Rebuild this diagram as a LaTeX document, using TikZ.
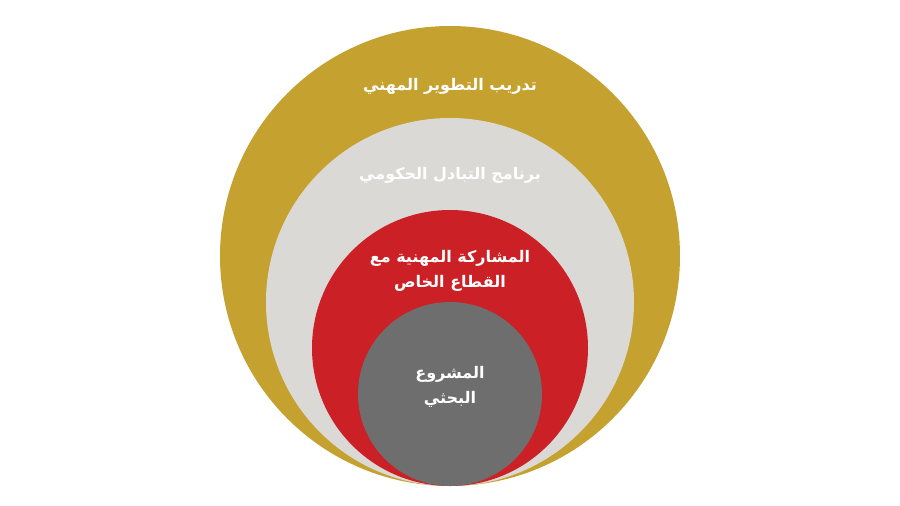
\documentclass[tikz,border=0pt]{standalone}
\usepackage{fontspec}
\TeXXeTstate=1
\newfontfamily\arabicfont[Script=Arabic]{DejaVu Sans}
\definecolor{goldc}{HTML}{C5A22F}
\definecolor{lgray}{HTML}{DAD9D5}
\definecolor{redc}{HTML}{CB2026}
\definecolor{dgray}{HTML}{6E6E6E}
\tikzset{
  ring/.style={circle, inner sep=0pt, draw=none},
  lbl/.style={text=white, font=\arabicfont\bfseries\fontsize{16}{25}\selectfont, align=center}
}
\begin{document}
\begin{tikzpicture}[x=1pt,y=-1pt]
\useasboundingbox (0,0) rectangle (900,506);
\fill[white] (0,0) rectangle (900,506);
\node[ring, fill=goldc, minimum size=460pt] (c1) at (450,256) {};
\node[ring, fill=lgray, minimum size=368pt] (c2) at (450,302) {};
\node[ring, fill=redc, minimum size=276pt] (c3) at (450,348) {};
\node[ring, fill=dgray, minimum size=184pt] (c4) at (450,394) {};
\node[lbl] (t1) at (450,86) {\beginR تدريب التطوير المهني\endR};
\node[lbl] (t2) at (450,175) {\beginR برنامج التبادل الحكومي\endR};
\node[lbl] (t3) at (450,271) {\beginR المشاركة المهنية مع\endR\\\beginR القطاع الخاص\endR};
\node[lbl] (t4) at (450,387) {\beginR المشروع\endR\\\beginR البحثي\endR};
\end{tikzpicture}
\end{document}
